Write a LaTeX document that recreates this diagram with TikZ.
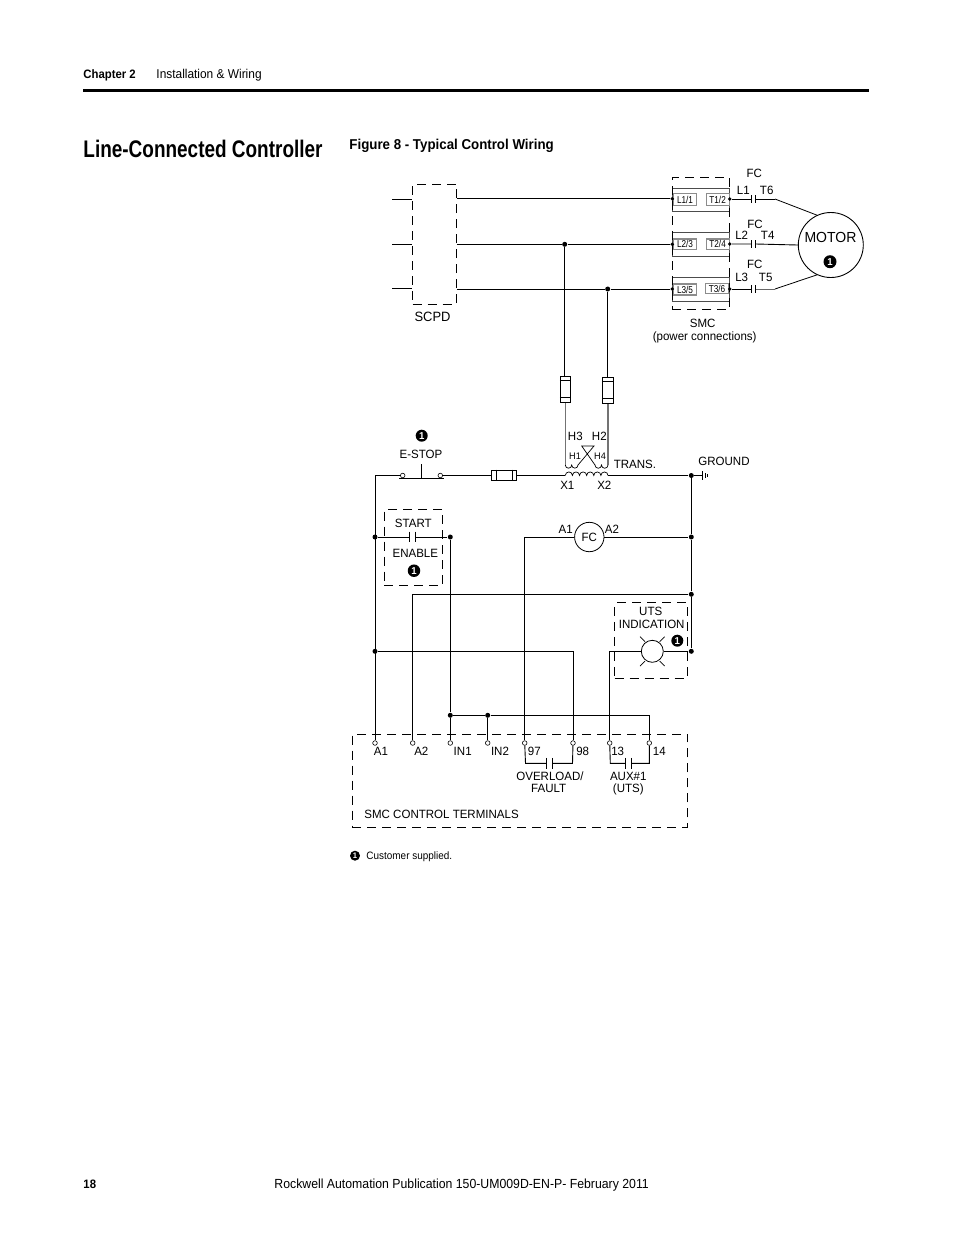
\documentclass[tikz,border=0pt]{standalone}
\usepackage{fontspec}
\setmainfont[FakeStretch=0.96]{Liberation Sans}
\newfontfamily\narrowfont[FakeStretch=0.82]{Liberation Sans}
\newfontfamily\pagefont[FakeStretch=0.93]{Liberation Sans}
\newfontfamily\titlefont[FakeStretch=0.79]{Liberation Sans}
\usetikzlibrary{calc}

\begin{document}
\begin{tikzpicture}[x=1pt,y=-1pt,line width=.9pt,
    lab/.style={inner sep=0pt,font=\fontsize{12}{12}\selectfont,text height=8.6pt,text depth=0pt},
    tinylab/.style={inner sep=0pt,font=\fontsize{9.5}{10}\selectfont,text height=6.8pt,text depth=0pt},
    page/.style={inner sep=0pt,anchor=west,font=\pagefont\fontsize{13.2}{13}\selectfont},
    dot/.style={circle,fill=black,inner sep=0pt,minimum size=5pt},
    term/.style={circle,draw,fill=white,inner sep=0pt,minimum size=4.6pt,line width=.6pt},
    badge/.style={circle,fill=black,text=white,inner sep=0pt,minimum size=12pt,font=\bfseries\fontsize{10}{10}\selectfont},
    fuse/.style={rectangle,draw,inner sep=0pt},
    contact/.style={inner sep=0pt,minimum width=4.5pt,minimum height=10pt},
    dashbox/.style={draw,line width=.9pt,dash pattern=on 9pt off 6pt},
    slot/.style={rectangle,draw=black!45,line width=1.1pt,inner sep=0pt,font=\narrowfont\fontsize{10}{10}\selectfont}
]
    \useasboundingbox (0,0) rectangle (954,1235);

    \node [page,font=\pagefont\bfseries\fontsize{12.2}{12}\selectfont] (chapter) at (83,75) {Chapter 2};
    \node [page,font=\pagefont\fontsize{12.8}{13}\selectfont] (section) at (156,75) {Installation \& Wiring};
    \coordinate (rulea) at (83,90.5);
    \coordinate (ruleb) at (869,90.5);
    \draw [line width=3pt] (rulea) -- (ruleb);
    \node [page,font=\titlefont\bfseries\fontsize{24}{24}\selectfont] (title) at (83,149) {Line-Connected Controller};
    \node [page,font=\pagefont\bfseries\fontsize{14.3}{15}\selectfont] (figure) at (349,145.5) {Figure 8 - Typical Control Wiring};
    \node [page,font=\pagefont\bfseries\fontsize{12.2}{12}\selectfont] (pageno) at (83,1184.5) {18};
    \node [page] (pub) at (274,1185) {Rockwell Automation Publication 150-UM009D-EN-P- February 2011};

    \node [dashbox,minimum width=44pt,minimum height=120pt,inner sep=0pt] (scpd) at (434.5,244.2) {};
    \node [lab,font=\fontsize{13.5}{13}\selectfont] (scpdlab) at (432.5,316.7) {SCPD};
    \coordinate (ina) at (392,199);
    \coordinate (inb) at (392,244.5);
    \coordinate (inc) at (392,288);
    \draw (ina) -- (ina -| scpd.west);
    \draw (inb) -- (inb -| scpd.west);
    \draw (inc) -- (inc -| scpd.west);

    \node [rectangle,draw=black!70,minimum width=57.5pt,minimum height=23pt,inner sep=0pt] (banda) at (701,199.6) {};
    \node [rectangle,draw=black!70,minimum width=57.5pt,minimum height=24.6pt,inner sep=0pt] (bandb) at (701,244.3) {};
    \node [rectangle,draw=black!70,minimum width=57.5pt,minimum height=24.4pt,inner sep=0pt] (bandc) at (701,289.5) {};
    \node [dashbox,minimum width=57.5pt,minimum height=131.6pt,inner sep=0pt] (smc) at (701,243.5) {};
    \node [slot,minimum width=23pt,minimum height=11.5pt] (la) at (685,199.5) {L1/1};
    \node [slot,minimum width=23pt,minimum height=11.5pt] (ta) at (717.6,199.5) {T1/2};
    \node [slot,minimum width=23pt,minimum height=10.5pt] (lb) at (685,244.2) {L2/3};
    \node [slot,minimum width=23pt,minimum height=10.5pt] (tb) at (717.6,244.2) {T2/4};
    \node [slot,minimum width=23pt,minimum height=11pt] (lc) at (685,289.5) {L3/5};
    \node [slot,minimum width=23pt,minimum height=10.5pt] (tc) at (717,288.5) {T3/6};
    \node [dot,minimum size=3.8pt] (lda) at (672.3,198.8) {};
    \node [dot,minimum size=3.8pt] (ldb) at (672.3,244.3) {};
    \node [dot,minimum size=3.8pt] (ldc) at (672.3,289) {};
    \node [dot,minimum size=3.8pt] (tda) at (729.7,199) {};
    \node [dot,minimum size=3.8pt] (tdb) at (729.7,244) {};
    \node [dot,minimum size=3.8pt] (tdc) at (729.7,289) {};
    \node [lab] (smclab) at (702.7,322.7) {SMC};
    \node [lab] (smclabb) at (704.7,335.7) {(power connections)};

    \node [dot] (tapb) at (564.7,244.3) {};
    \node [dot] (tapc) at (607.7,289) {};
    \draw (scpd.east |- lda) -- (lda);
    \draw (scpd.east |- ldb) -- (tapb) -- (ldb);
    \draw (scpd.east |- ldc) -- (tapc) -- (ldc);

    \node [contact,minimum height=6.5pt,minimum width=3.6pt] (fca) at (753.5,199) {};
    \node [contact,minimum height=6.5pt,minimum width=3.6pt] (fcb) at (753.5,244) {};
    \node [contact,minimum height=6.5pt,minimum width=3.6pt] (fcc) at (753.5,289) {};
    \draw [line width=.7pt] (fca.north west) -- (fca.south west) (fca.north east) -- (fca.south east);
    \draw [line width=.7pt] (fcb.north west) -- (fcb.south west) (fcb.north east) -- (fcb.south east);
    \draw [line width=.7pt] (fcc.north west) -- (fcc.south west) (fcc.north east) -- (fcc.south east);
    \node [circle,draw,inner sep=0pt,minimum size=65pt] (motor) at (830.8,245) {};
    \node [lab,font=\fontsize{14.6}{14}\selectfont,text height=10pt] (motorlab) at (830.5,237.3) {MOTOR};
    \node [badge,minimum size=13pt] (motorb) at (830,261.7) {1};
    \coordinate (kneea) at (775,199);
    \coordinate (kneec) at (775,289);
    \draw (tda) -- (fca.west) (fca.east) -- (kneea);
    \draw [line width=.8pt] (kneea) -- (motor.115);
    \draw (tdb) -- (fcb.west) (fcb.east) -- (motor.west);
    \draw (tdc) -- (fcc.west);
    \draw [black!60] (fcc.east) -- (kneec);
    \draw [line width=.8pt] (kneec) -- (motor.245);
    \node [lab] (fclaba) at (754.3,172.7) {FC};
    \node [lab] (laba) at (743.3,190) {L1};
    \node [lab] (tlaba) at (766.7,190) {T6};
    \node [lab] (fclabb) at (755,224) {FC};
    \node [lab] (labb) at (741.7,235) {L2};
    \node [lab] (tlabb) at (767.7,235) {T4};
    \node [lab] (fclabc) at (754.7,264.3) {FC};
    \node [lab] (labc) at (741.7,276.7) {L3};
    \node [lab] (tlabc) at (765.7,276.7) {T5};

    \node [fuse,minimum width=10.4pt,minimum height=26.3pt] (fusea) at (565.5,389.2) {};
    \node [fuse,minimum width=11.4pt,minimum height=26pt] (fuseb) at (608,390.3) {};
    \draw ([yshift=-5pt]fusea.north west) -- ([yshift=-5pt]fusea.north east);
    \draw ([yshift=5pt]fusea.south west) -- ([yshift=5pt]fusea.south east);
    \draw ([yshift=-4.5pt]fuseb.north west) -- ([yshift=-4.5pt]fuseb.north east);
    \draw ([yshift=5pt]fuseb.south west) -- ([yshift=5pt]fuseb.south east);
    \draw (tapb) -- (tapb |- fusea.north);
    \draw (tapc) -- (tapc |- fuseb.north);

    \coordinate (pria) at (565.3,465);
    \coordinate (prib) at (578,465);
    \coordinate (pric) at (595,465);
    \coordinate (prid) at (608,465);
    \coordinate (crossa) at (581.7,446);
    \coordinate (crossb) at (594,446);
    \draw [black!55,line width=1.1pt] (pria |- fusea.south) -- (pria);
    \draw [black!55,line width=1.1pt] (prid |- fuseb.south) -- (prid);
    \draw [line width=.7pt] (pria) arc[start angle=180,end angle=0,radius=3.2] arc[start angle=180,end angle=0,radius=3.15];
    \draw [line width=.7pt] (pric) arc[start angle=180,end angle=0,radius=3.25] arc[start angle=180,end angle=0,radius=3.25];
    \draw [line width=.7pt] (prib) -- (crossb) -- (crossa) -- (pric);
    \node [lab] (hlabc) at (575.3,436) {H3};
    \node [lab] (hlabb) at (599.3,436) {H2};
    \node [tinylab] (hlaba) at (575,455.7) {H1};
    \node [tinylab] (hlabd) at (600,455.7) {H4};

    \node [term] (stopa) at (402.7,475.5) {};
    \node [term] (stopb) at (440.3,475.5) {};
    \coordinate (stopl) at (399,478.7);
    \coordinate (stopr) at (444,478.7);
    \coordinate (stopm) at (421.3,478.7);
    \coordinate (stopt) at (421.3,464.3);
    \draw (stopl) -- (stopr);
    \draw (stopm) -- (stopt);
    \node [lab] (stoplab) at (421,454) {E-STOP};
    \node [badge] (stopbadge) at (421.7,435.7) {1};
    \node [fuse,minimum width=25pt,minimum height=10.7pt] (fusec) at (504.2,475.5) {};
    \draw ([xshift=5pt]fusec.north west) -- ([xshift=5pt]fusec.south west);
    \draw ([xshift=-4.5pt]fusec.north east) -- ([xshift=-4.5pt]fusec.south east);

    \coordinate (seca) at (565.3,475.5);
    \coordinate (secb) at (608,475.5);
    \draw [line width=.7pt] (seca) arc[start angle=180,end angle=360,radius=3.56] arc[start angle=180,end angle=360,radius=3.56] arc[start angle=180,end angle=360,radius=3.56] arc[start angle=180,end angle=360,radius=3.56] arc[start angle=180,end angle=360,radius=3.56] arc[start angle=180,end angle=360,radius=3.56];
    \node [lab] (xlaba) at (567.3,485.3) {X1};
    \node [lab] (xlabb) at (604.3,485.3) {X2};
    \node [lab,anchor=west] (translab) at (613.3,464.3) {TRANS.};

    \node [dot] (rgta) at (691.3,475.5) {};
    \node [dot] (rgtb) at (691.3,537) {};
    \node [dot] (rgtc) at (691.3,594.3) {};
    \node [dot] (rgtd) at (691.3,651.3) {};
    \coordinate (gnda) at (702.3,475.5);
    \coordinate (gndat) at (702.3,471.2);
    \coordinate (gndab) at (702.3,479.8);
    \coordinate (gndbt) at (705,473);
    \coordinate (gndbb) at (705,478);
    \coordinate (gndct) at (707.5,474.2);
    \coordinate (gndcb) at (707.5,476.8);
    \draw (rgta) -- (gnda);
    \draw [line width=.7pt] (gndat) -- (gndab) (gndbt) -- (gndbb) (gndct) -- (gndcb);
    \node [lab] (gndlab) at (724,461) {GROUND};
    \draw (rgta) -- (rgtb) -- (rgtc) -- (rgtd);
    \draw (stopb) -- (fusec.west) (fusec.east) -- (seca) (secb) -- (rgta);

    \node [dot] (lfta) at (375,537) {};
    \node [dot] (lftb) at (375,651.3) {};
    \node [dot] (starta) at (450.3,537) {};
    \node [contact] (start) at (412.5,537) {};
    \draw (start.north west) -- (start.south west) (start.north east) -- (start.south east);
    \draw (lfta) -- (start.west) (start.east) -- (starta);
    \node [dashbox,minimum width=58.4pt,minimum height=76pt,inner sep=0pt] (startbox) at (413.5,547.3) {};
    \node [lab] (startlab) at (413.3,522.7) {START};
    \node [lab] (enablelab) at (415.3,552.7) {ENABLE};
    \node [badge,minimum size=12.5pt] (enablebadge) at (414,570.7) {1};

    \node [circle,draw,line width=.8pt,inner sep=0pt,minimum size=29.4pt] (coil) at (589.3,537) {};
    \node [lab] (coillab) at (589.3,537) {FC};
    \node [lab] (coila) at (565.7,529.3) {A1};
    \node [lab] (coilb) at (612,529.3) {A2};
    \draw (coil) -- (rgtb);

    \node [circle,draw,line width=.8pt,inner sep=0pt,minimum size=22pt] (lamp) at (652.3,651.3) {};
    \coordinate (raya) at (640,636.7);
    \coordinate (rayaa) at (645,641.7);
    \coordinate (rayb) at (664.6,636.7);
    \coordinate (raybb) at (659.6,641.7);
    \coordinate (rayc) at (640,666);
    \coordinate (raycc) at (645,661);
    \coordinate (rayd) at (664.6,666);
    \coordinate (raydd) at (659.6,661);
    \draw [line width=.7pt] (raya) -- (rayaa) (rayb) -- (raybb) (rayc) -- (raycc) (rayd) -- (raydd);
    \draw (lamp) -- (rgtd);
    \node [dashbox,minimum width=72.6pt,minimum height=75.6pt,inner sep=0pt] (utsbox) at (651,640.5) {};
    \node [lab] (utslab) at (650.7,611) {UTS};
    \node [lab] (indlab) at (651.7,624.3) {INDICATION};
    \node [badge] (utsbadge) at (677.3,640.7) {1};

    \node [dashbox,minimum width=335pt,minimum height=93.3pt,inner sep=0pt] (ctrl) at (519.8,780.6) {};
    \node [lab,anchor=west] (ctrllab) at (364,814) {SMC CONTROL TERMINALS};
    \node [term] (ta1) at (375,743) {};
    \node [term] (ta2) at (412.7,743) {};
    \node [term] (tin1) at (450.3,743) {};
    \node [term] (tin2) at (487.7,743) {};
    \node [term] (t97) at (524.7,743) {};
    \node [term] (t98) at (573,743) {};
    \node [term] (t13) at (609.7,743) {};
    \node [term] (t14) at (649.3,743) {};
    \node [lab] (la1) at (381,751.3) {A1};
    \node [lab] (la2) at (421.3,751.3) {A2};
    \node [lab] (lin1) at (462.7,751.3) {IN1};
    \node [lab] (lin2) at (500,751.3) {IN2};
    \node [lab] (l97) at (534.3,751.3) {97};
    \node [lab] (l98) at (582.7,751.3) {98};
    \node [lab] (l13) at (617.7,751.3) {13};
    \node [lab] (l14) at (659.3,751.3) {14};
    \node [dot] (busa) at (450.3,715.3) {};
    \node [dot] (busb) at (487.7,715.3) {};
    \coordinate (busc) at (649.3,715.3);

    \draw (stopa) -| (ta1);
    \draw (rgtc) -| (ta2);
    \draw (starta) -- (busa) -- (tin1);
    \draw (busa) -- (busb) -- (busc) -- (t14);
    \draw (busb) -- (tin2);
    \draw (coil) -| (t97);
    \draw (lftb) -| (t98);
    \draw (lamp) -| (t13);

    \coordinate (ovla) at (525.5,763.3);
    \coordinate (ovlb) at (572.5,763.3);
    \coordinate (auxa) at (610.3,763.3);
    \coordinate (auxb) at (649.3,763.3);
    \node [contact] (ovl) at (549.3,763.3) {};
    \node [contact] (aux) at (628.3,763.3) {};
    \draw (ovl.north west) -- (ovl.south west) (ovl.north east) -- (ovl.south east);
    \draw (aux.north west) -- (aux.south west) (aux.north east) -- (aux.south east);
    \draw (t97) -- (ovla) -- (ovl.west) (ovl.east) -- (ovlb) -- (t98);
    \draw (t13) -- (auxa) -- (aux.west) (aux.east) -- (auxb) -- (t14);
    \node [lab] (ovllab) at (550,775.7) {OVERLOAD/};
    \node [lab] (ovllabb) at (548.7,788.3) {FAULT};
    \node [lab] (auxlab) at (628.3,776) {AUX\#1};
    \node [lab] (auxlabb) at (628.3,788.5) {(UTS)};

    \node [badge,minimum size=10pt,font=\bfseries\fontsize{8}{8}\selectfont] (notebadge) at (355,855.7) {1};
    \node [page,font=\pagefont\fontsize{10.7}{11}\selectfont] (notelab) at (366,856.5) {Customer supplied.};
\end{tikzpicture}
\end{document}
